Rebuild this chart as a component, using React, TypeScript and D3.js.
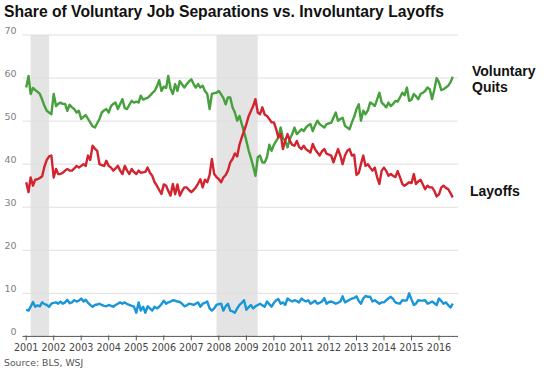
import React from 'react'
import * as d3 from 'd3'

// monthly shares (%), Jan 2001 - Jul 2016
const quits = [
  57.8, 60.5, 56.3, 57.7, 57.2, 56.8, 56.3, 55, 53.5, 52.4, 52, 51.6, // 2001
  56.3, 53.5, 54, 54.3, 54, 54, 52.4, 53.8, 53.2, 52.8, 52, 52.4, // 2002
  50.5, 51, 51.4, 50.5, 49.7, 48.8, 48.5, 49.5, 50.5, 52, 52.5, 52.8, // 2003
  52, 53.5, 54, 54.3, 52.8, 54, 55.1, 53, 52.8, 53.8, 54.7, 54.3, // 2004
  54.5, 54.3, 55.9, 55, 55.2, 55.4, 55.9, 56.5, 57, 58, 59.5, 57, // 2005
  58, 57.7, 60.5, 57.5, 56.3, 58.6, 57, 59.3, 58.5, 57.8, 58.6, 59.2, // 2006
  59.7, 58.6, 57.8, 58.6, 57.8, 58.2, 57, 56.3, 52.8, 56.3, 56.5, 56.6, // 2007
  57, 56.2, 55.4, 53.9, 55.5, 55.5, 53.2, 52, 50.1, 51.2, 49.3, 47.5, // 2008
  45.4, 43.1, 41.5, 39.5, 37.3, 41.6, 42, 40.4, 40.4, 41.6, 44.5, 43.1, // 2009
  44.5, 45.4, 46.2, 48.5, 46, 45.4, 43.9, 45.9, 47, 48.5, 47, 47.5, // 2010
  48.1, 47.7, 48.5, 49, 49.3, 47.7, 49, 50.1, 49.3, 48.9, 48.5, 49.3, // 2011
  49.5, 49.6, 50.8, 52, 50.1, 50.5, 50.8, 48.9, 48.5, 48.1, 49.7, 51, // 2012
  52.8, 53.9, 50.1, 52.4, 51.6, 52.5, 54.3, 54, 53.5, 55, 56.6, 54.3, // 2013
  53.8, 53.2, 54.3, 53.5, 54, 54.7, 54.5, 55.5, 56.6, 56, 57.8, 54.7, // 2014
  55, 56.3, 55.8, 55.1, 56.3, 56.6, 57, 57.8, 57.4, 55.1, 57.4, 60, // 2015
  59, 57.2, 57.4, 57.8, 58.2, 59, 60.3, // 2016
]

const layoffs = [
  35.8, 33.5, 36.9, 35, 36.4, 36.5, 36.8, 37.2, 39.5, 41, 41.8, 42,
  36.9, 38.9, 37.7, 37.7, 38, 38.5, 38.9, 38.5, 38.5, 39, 39.6, 39.2,
  39.6, 40, 39.6, 42, 41, 44.3, 43.6, 43.1, 40, 39.8, 39.6, 40.8,
  39.6, 39.2, 38.5, 39, 39.6, 38.5, 37.7, 39.6, 38.5, 37.7, 38.9, 38.2,
  37.7, 38.5, 38, 38.1, 38.2, 39.2, 38, 37.3, 35.8, 35, 34, 33.1,
  35.3, 35, 33.8, 32.7, 35.4, 33, 35.3, 32.7, 33.8, 34.6, 34.6, 34,
  33.5, 34, 34.6, 35.5, 36.5, 34.6, 36.4, 35.8, 37.5, 41.2, 37.7, 37,
  36.5, 35.8, 36.9, 37.5, 38.5, 40.4, 41.2, 42.5, 41.8, 44.5, 46.2, 47.7,
  49.3, 51.2, 52.3, 53.5, 55.1, 52, 51.6, 53.2, 51.5, 51.2, 50.5, 49.7,
  49.7, 48.1, 46.2, 47, 43.5, 45.5, 47, 45.4, 44.5, 44.3, 45.4, 44,
  43.5, 44.3, 43.5, 43.1, 42.7, 44.7, 43.5, 42.7, 42, 43, 43.5, 42.4,
  42.2, 42, 40.4, 42, 43.5, 42, 40, 42, 43.1, 43.5, 42, 42.2,
  37.5, 38, 40, 42, 39.6, 40, 39.2, 38.5, 39.2, 37, 35.4, 38.5,
  39.2, 38.4, 37.3, 37.7, 37.3, 37, 38.4, 37, 35.4, 35, 35.4, 35.8,
  35.6, 37.7, 35.4, 36, 36.4, 35.3, 34.2, 35, 34.6, 34.6, 33.8, 32.5,
  33, 34.6, 35, 34.5, 34.2, 33.3, 32.3,
]

const other = [
  6.2, 6, 6.9, 8, 6.9, 7.2, 7, 7.9, 7.5, 7.3, 6.9, 7.6,
  7.8, 7.9, 7.6, 8.1, 7.6, 7.9, 8.5, 7.7, 7.9, 8.4, 8.1, 8.3,
  8.8, 8.1, 8.5, 7.8, 7.3, 6.9, 7.3, 7.4, 7.6, 7.3, 7.1, 7,
  7.3, 7.1, 6.9, 7.3, 7.6, 7.9, 7.6, 7.9, 7.5, 7.3, 7.1, 6.9,
  5.5, 7.9, 6, 6.9, 5.5, 7, 6.5, 6, 6.9, 6.5, 6.9, 7.5,
  8.3, 7.6, 7.9, 8.1, 8.4, 8.3, 8.1, 8, 7.6, 7, 7.2, 7.6,
  7.5, 7.3, 7.6, 7.9, 6.9, 7.6, 7.8, 8.1, 6.5, 6, 6.5, 7.3,
  7.5, 7.6, 6, 7, 7.6, 6, 5.8, 5.5, 6.5, 7.3, 7.8, 8.4,
  6.2, 6.8, 7.3, 6.5, 7, 7.3, 7.6, 7.2, 6.9, 8.1, 7.5, 6.9,
  7.8, 8.4, 8.7, 7.6, 7.9, 7.3, 8.8, 8.4, 8.1, 8.4, 8.2, 7.9,
  8.8, 8.4, 8.1, 8.4, 7.6, 7.9, 8.3, 7.6, 7.8, 8.1, 8.9, 7.6,
  8, 8.1, 7.9, 7.6, 7.8, 8.1, 9.3, 7.9, 8.2, 8.5, 8.8, 8.9,
  9.3, 8.2, 7.6, 8.8, 9.4, 9.2, 9.2, 8.1, 8.4, 8, 7.6, 7.9,
  7.9, 8.4, 8.8, 9.2, 8.7, 7.9, 7.7, 7.6, 8.4, 8.3, 8.4, 10,
  8.6, 7.3, 7.6, 8.4, 8.3, 8.3, 8.4, 7.6, 7.8, 8.1, 7.7, 7.3,
  8.8, 8.2, 7.6, 7.9, 7.3, 6.7, 7.6,
]

const years = d3.range(2001, 2017)
const yTicks = [0, 10, 20, 30, 40, 50, 60, 70]
// recessions (start, end)
const recessions = [
  [new Date(2001, 2, 1), new Date(2001, 10, 1)],
  [new Date(2007, 11, 1), new Date(2009, 5, 1)],
]

const startDate = new Date(2001, 0, 1)
const monthDate = (i: number) => d3.timeMonth.offset(startDate, i)

export default function App() {
  const width = 549,
    height = 370
  const left = 22.5,
    right = 458

  const x = d3
    .scaleTime()
    .domain([new Date(2001, 0, 1), new Date(2016, 0, 1)])
    .range([26.2, 439])

  const y = d3.scaleLinear().domain([0, 70]).range([336.4, 35])

  const line = d3
    .line<number>()
    .x((d, i) => x(monthDate(i)))
    .y(d => y(d))

  const series = [
    { values: quits, color: '#46a03b' },
    { values: layoffs, color: '#d2232f' },
    { values: other, color: '#1996d8' },
  ]

  const sans = 'Liberation Sans, Arial, sans-serif'
  const tickFont = 'DejaVu Sans, Verdana, sans-serif'

  return (
    <div style={{ position: 'absolute', left: 0, top: 0 }}>
      <svg width={width} height={height} style={{ display: 'block', background: '#fff' }}>
        <text x={4} y={16.5} fontFamily={sans} fontWeight="bold" fontSize={15.7} fill="#111">
          Share of Voluntary Job Separations vs. Involuntary Layoffs
        </text>

        {/* recession bands */}
        {recessions.map((r, i) => (
          <rect
            key={i}
            x={x(r[0])}
            y={y(70)}
            width={x(r[1]) - x(r[0])}
            height={y(0) - y(70)}
            fill="#e4e4e4"
          />
        ))}

        {/* gridlines and y labels */}
        {yTicks.map(t => (
          <g key={t}>
            {t > 0 && (
              <line x1={left} x2={right} y1={y(t)} y2={y(t)} stroke="#dedede" strokeWidth={1} />
            )}
            <text
              x={16.5}
              y={y(t) - 1.5}
              textAnchor="end"
              fontFamily={tickFont}
              fontSize={9.5}
              fill="#808080"
            >
              {t}
            </text>
          </g>
        ))}

        {/* lines */}
        {series.map((s, i) => (
          <path
            key={i}
            d={line(s.values) || ''}
            fill="none"
            stroke={s.color}
            strokeWidth={2.4}
            strokeLinejoin="round"
          />
        ))}

        {/* x axis */}
        <line x1={left} x2={right} y1={y(0)} y2={y(0)} stroke="#555" strokeWidth={1} />
        {years.map(yr => {
          const xx = x(new Date(yr, 0, 1))
          return (
            <g key={yr}>
              <line x1={xx} x2={xx} y1={y(0) - 1} y2={y(0) + 4} stroke="#555" strokeWidth={1} />
              <text
                x={xx}
                y={350.5}
                textAnchor="middle"
                fontFamily={tickFont}
                fontSize={9.6}
                fill="#444"
              >
                {yr}
              </text>
            </g>
          )
        })}

        {/* series labels */}
        <text fontFamily={sans} fontWeight="bold" fontSize={14} fill="#111">
          <tspan x={472} y={76}>Voluntary</tspan>
          <tspan x={472} y={92}>Quits</tspan>
        </text>
        <text x={470} y={196} fontFamily={sans} fontWeight="bold" fontSize={14} fill="#111">
          Layoffs
        </text>

        <text x={4} y={366} fontFamily={tickFont} fontSize={9.3} fill="#555">
          Source: BLS, WSJ
        </text>
      </svg>
    </div>
  )
}
